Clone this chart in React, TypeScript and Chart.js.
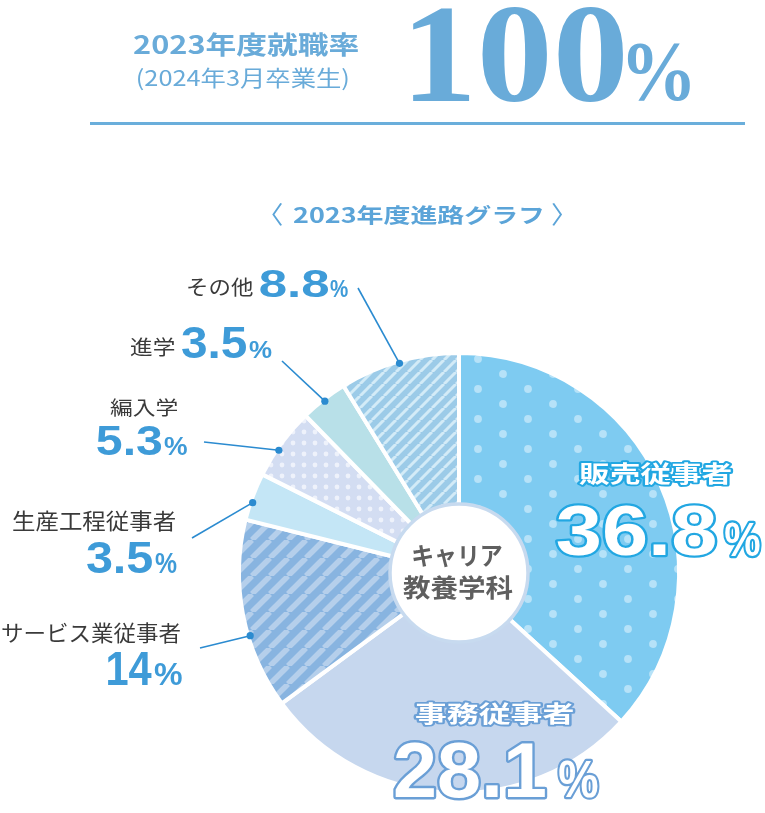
import React, { useEffect, useRef } from 'react';
import { Chart, registerables } from 'chart.js';

Chart.register(...registerables);

// ---------- data ----------
const categories = ['販売従事者', '事務従事者', 'サービス業従事者', '生産工程従事者', '編入学', '進学', 'その他'];
const shares = [36.8, 28.1, 14, 3.5, 5.3, 3.5, 8.8];
const headerTitle = '2023年度就職率';
const headerSub = '(2024年3月卒業生)';
const headerRate = '100';
const graphTitle = '2023年度進路グラフ';
const centerLines = ['キャリア', '教養学科'];

// ---------- styles / layout ----------
const SANS = '"Noto Sans CJK JP", "Noto Sans", sans-serif';
const LATIN = '"Liberation Sans", Arial, sans-serif';
const SERIF = '"Liberation Serif", "Times New Roman", serif';
const HEAD_BLUE = '#69abd9';
const PCT_BLUE = '#3e9bd8';
const NAME_COLOR = '#3a3a3a';
const LEADER = '#2b8bd0';

type Box = [number, number, number, number];

// outside labels: index -> name box, number box, % box, leader end, anchor position along the arc
const outsideLayout: Record<number, { name: Box; num: Box; pct: Box; end: [number, number]; at: number }> = {
  6: { name: [188, 277, 253, 298], num: [260, 270, 328, 297], pct: [330, 280, 348, 297], end: [358, 288], at: 0.5 },
  5: { name: [130, 337, 175, 358], num: [182, 327, 247, 358], pct: [249, 342, 272, 358], end: [282, 361], at: 0.5 },
  4: { name: [110, 398, 178, 418], num: [97, 426, 162, 455], pct: [164, 437, 187, 455], end: [204, 442], at: 0.4 },
  3: { name: [13, 510, 175, 532], num: [87, 542, 153, 573], pct: [155, 553, 177, 573], end: [192, 538], at: 0.38 },
  2: { name: [2, 623, 180, 644], num: [108, 652, 152, 685], pct: [154, 663, 182, 685], end: [200, 648], at: 0.39 },
};
// inside labels
const insideLayout: Record<number, { name: Box; num: Box; pct: Box; stroke: string }> = {
  0: { name: [579, 462, 731, 485], num: [557, 505, 715, 556], pct: [725, 522, 760, 556], stroke: '#22a7e2' },
  1: { name: [415, 702, 573, 725], num: [395, 742, 545, 798], pct: [559, 760, 598, 798], stroke: '#6a9fd6' },
};

function fitText(
  ctx: CanvasRenderingContext2D,
  text: string,
  family: string,
  weight: string,
  box: Box,
  fill: string,
  stroke?: string,
  strokeW = 0
) {
  const [l, t, r, b] = box;
  const W = r - l;
  const H = b - t;
  ctx.save();
  ctx.textAlign = 'left';
  ctx.textBaseline = 'alphabetic';
  ctx.font = `${weight} 100px ${family}`;
  let m = ctx.measureText(text);
  const inkH0 = m.actualBoundingBoxAscent + m.actualBoundingBoxDescent;
  const size = (100 * H) / inkH0;
  ctx.font = `${weight} ${size}px ${family}`;
  m = ctx.measureText(text);
  const asc = m.actualBoundingBoxAscent;
  const desc = m.actualBoundingBoxDescent;
  const aL = m.actualBoundingBoxLeft;
  const aR = m.actualBoundingBoxRight;
  const sx = W / (aL + aR);
  const sy = H / (asc + desc);
  ctx.translate(l, t);
  ctx.scale(sx, sy);
  if (stroke) {
    ctx.lineJoin = 'round';
    ctx.lineWidth = (strokeW * 2) / ((sx + sy) / 2);
    ctx.strokeStyle = stroke;
    ctx.strokeText(text, aL, asc);
  }
  ctx.fillStyle = fill;
  ctx.fillText(text, aL, asc);
  ctx.restore();
}

function makeTile(w: number, h: number, draw: (c: CanvasRenderingContext2D) => void): CanvasPattern {
  const cv = document.createElement('canvas');
  cv.width = w;
  cv.height = h;
  const c = cv.getContext('2d')!;
  draw(c);
  return c.createPattern(cv, 'repeat')!;
}

function dotPattern(w: number, h: number, base: string, dot: string, r: number, pts: [number, number][]) {
  return makeTile(w, h, (c) => {
    c.fillStyle = base;
    c.fillRect(0, 0, w, h);
    c.fillStyle = dot;
    for (const [px, py] of pts) {
      for (const dx of [-w, 0, w]) {
        for (const dy of [-h, 0, h]) {
          c.beginPath();
          c.arc(px + dx, py + dy, r, 0, Math.PI * 2);
          c.fill();
        }
      }
    }
  });
}

function stripePattern(p: number, base: string, stripe: string, lw: number) {
  return makeTile(p, p, (c) => {
    c.fillStyle = base;
    c.fillRect(0, 0, p, p);
    c.strokeStyle = stripe;
    c.lineWidth = lw;
    for (const k of [-1, 0, 1]) {
      c.beginPath();
      c.moveTo(k * p, p);
      c.lineTo(k * p + p, 0);
      c.stroke();
    }
  });
}

export default function App() {
  const ref = useRef<HTMLCanvasElement>(null);

  useEffect(() => {
    document.body.style.margin = '0';
    const canvas = ref.current!;
    const fills = [
      dotPattern(50, 30, '#7ecbf1', '#b6e2f8', 3.9, [[28, 29], [3, 14]]),
      '#c6d7ee',
      stripePattern(18, '#88b4e0', '#b5cfeb', 5.5),
      '#c4e6f6',
      dotPattern(11, 11, '#d3ddf2', '#eef2fb', 2.4, [[7, 3]]),
      '#b8e0e8',
      stripePattern(12, '#9ccbe8', '#d3ebf7', 3),
    ];

    const overlay = {
      id: 'overlay',
      afterDraw(chart: any) {
        const ctx: CanvasRenderingContext2D = chart.ctx;
        const meta = chart.getDatasetMeta(0);
        // header
        fitText(ctx, headerTitle, SANS, '700', [133, 32, 358, 57], HEAD_BLUE);
        fitText(ctx, headerSub, SANS, '400', [138, 67, 348, 91], HEAD_BLUE);
        fitText(ctx, headerRate, SERIF, '700', [413, 8, 623, 102], HEAD_BLUE);
        fitText(ctx, '%', SERIF, '700', [627, 43, 690, 102], HEAD_BLUE);
        ctx.fillStyle = '#6aaedb';
        ctx.fillRect(90, 122, 655, 3);
        // graph title
        fitText(ctx, '〈', SANS, '400', [272, 203, 283, 226], '#5ba4d8');
        fitText(ctx, graphTitle, SANS, '700', [293, 204, 543, 226], '#5ba4d8');
        fitText(ctx, '〉', SANS, '400', [552, 203, 563, 226], '#5ba4d8');

        // leader lines + outside labels
        Object.keys(outsideLayout).forEach((k) => {
          const i = Number(k);
          const L = outsideLayout[i];
          const arc = meta.data[i];
          const ang = arc.startAngle + (arc.endAngle - arc.startAngle) * L.at;
          const R = arc.outerRadius - 2;
          const px = arc.x + Math.cos(ang) * R;
          const py = arc.y + Math.sin(ang) * R;
          ctx.save();
          ctx.strokeStyle = LEADER;
          ctx.lineWidth = 1.6;
          ctx.beginPath();
          ctx.moveTo(px, py);
          ctx.lineTo(L.end[0], L.end[1]);
          ctx.stroke();
          ctx.fillStyle = LEADER;
          ctx.beginPath();
          ctx.arc(px, py, 3.6, 0, Math.PI * 2);
          ctx.fill();
          ctx.restore();
          fitText(ctx, categories[i], SANS, '400', L.name, NAME_COLOR);
          fitText(ctx, String(shares[i]), LATIN, '700', L.num, PCT_BLUE);
          fitText(ctx, '%', LATIN, '700', L.pct, PCT_BLUE);
        });

        // centre disc
        const a0 = meta.data[0];
        ctx.save();
        ctx.beginPath();
        ctx.arc(a0.x, a0.y, 69, 0, Math.PI * 2);
        ctx.fillStyle = '#ffffff';
        ctx.fill();
        ctx.lineWidth = 3.5;
        ctx.strokeStyle = '#c7daef';
        ctx.stroke();
        ctx.restore();
        fitText(ctx, centerLines[0], SANS, '700', [413, 545, 502, 568], '#5f5f5f');
        fitText(ctx, centerLines[1], SANS, '700', [403, 575, 513, 600], '#5f5f5f');

        // inside labels
        Object.keys(insideLayout).forEach((k) => {
          const i = Number(k);
          const L = insideLayout[i];
          fitText(ctx, categories[i], SANS, '700', L.name, '#ffffff', L.stroke, 2.2);
          fitText(ctx, String(shares[i]), LATIN, '700', L.num, '#ffffff', L.stroke, 2.4);
          fitText(ctx, '%', LATIN, '700', L.pct, '#ffffff', L.stroke, 2.2);
        });
      },
    };

    const chart = new Chart(canvas, {
      type: 'doughnut',
      data: {
        labels: categories,
        datasets: [
          {
            data: shares,
            backgroundColor: fills as any,
            borderColor: '#ffffff',
            borderWidth: 4,
            hoverOffset: 0,
          },
        ],
      },
      options: {
        responsive: false,
        animation: false,
        events: [],
        radius: 220,
        cutout: '30%',
        layout: { padding: { left: 153, top: 333, right: 0, bottom: 0 } },
        plugins: { legend: { display: false }, tooltip: { enabled: false }, title: { display: false } },
      } as any,
      plugins: [overlay],
    });
    return () => chart.destroy();
  }, []);

  return (
    <div style={{ width: 765, height: 813, position: 'relative', background: '#fff' }}>
      <canvas ref={ref} width={765} height={813} style={{ display: 'block', width: 765, height: 813 }} />
    </div>
  );
}
